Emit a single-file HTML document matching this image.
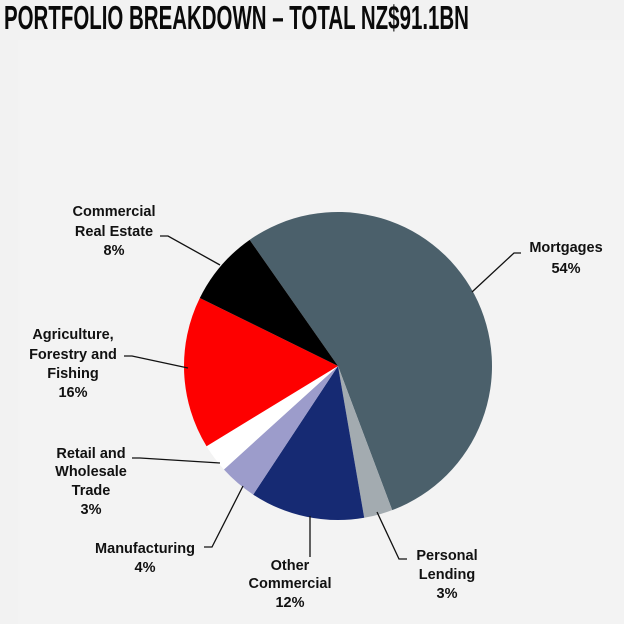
<!DOCTYPE html>
<html><head><meta charset="utf-8"><style>
body{margin:0;background:#f2f2f2;width:624px;height:624px;overflow:hidden}
#title{position:absolute;left:4px;top:1px;font-family:"Liberation Sans Narrow","Liberation Sans",sans-serif;font-weight:bold;font-size:33px;line-height:33px;color:#0a0a0a;white-space:nowrap;transform-origin:0 0;transform:scaleX(0.62)}
svg{position:absolute;left:0;top:0}
text{font-family:"Liberation Sans",sans-serif;font-weight:bold;font-size:14.5px;fill:#111;text-anchor:middle}
</style></head><body>
<div id="title">PORTFOLIO BREAKDOWN – TOTAL NZ$91.1BN</div>
<svg width="624" height="624">
<rect x="18" y="40" width="606" height="584" fill="#f3f3f3"/>
<g id="slices"></g>
<g stroke="#111" stroke-width="1.3" fill="none">
<polyline points="160,236 168,236 220,265"/>
<polyline points="521,253 514,253 472,292"/>
<polyline points="124,356 132,356 188,368"/>
<polyline points="132,458 140,458 220,463"/>
<polyline points="204,547 212,547 243,486"/>
<polyline points="310,557 310,516"/>
<polyline points="407,559 399,559 377,512"/>
</g>
<g>
<text x="114" y="216">Commercial</text><text x="114" y="236">Real Estate</text><text x="114" y="255">8%</text>
<text x="566" y="252">Mortgages</text><text x="566" y="273">54%</text>
<text x="73" y="339">Agriculture,</text><text x="73" y="359">Forestry and</text><text x="73" y="378">Fishing</text><text x="73" y="397">16%</text>
<text x="91" y="458">Retail and</text><text x="91" y="476">Wholesale</text><text x="91" y="495">Trade</text><text x="91" y="514">3%</text>
<text x="145" y="553">Manufacturing</text><text x="145" y="572">4%</text>
<text x="290" y="570">Other</text><text x="290" y="588">Commercial</text><text x="290" y="607">12%</text>
<text x="447" y="560">Personal</text><text x="447" y="579">Lending</text><text x="447" y="598">3%</text>
</g>
</svg>
<script>
const categories=["Mortgages","Personal Lending","Other Commercial","Manufacturing","Retail and Wholesale Trade","Agriculture, Forestry and Fishing","Commercial Real Estate"];
const values=[54,3,12,4,3,16,8];
const colors=["#4b606b","#a3abb0","#162a73","#9c9ccb","#ffffff","#fe0000","#000000"];
const cx=338,cy=366,r=154,startDeg=-35;
const g=document.getElementById('slices');
const total=values.reduce((a,b)=>a+b,0);
let a=startDeg;
function pt(d){const t=d*Math.PI/180;return [cx+r*Math.sin(t),cy-r*Math.cos(t)];}
values.forEach((v,i)=>{
  const sweep=v/total*360;const p1=pt(a),p2=pt(a+sweep);
  const p=document.createElementNS('http://www.w3.org/2000/svg','path');
  p.setAttribute('d',`M${cx},${cy}L${p1[0]},${p1[1]}A${r},${r} 0 ${sweep>180?1:0} 1 ${p2[0]},${p2[1]}Z`);
  p.setAttribute('fill',colors[i]);
  
  
  g.appendChild(p);a+=sweep;
});
</script>
</body></html>
